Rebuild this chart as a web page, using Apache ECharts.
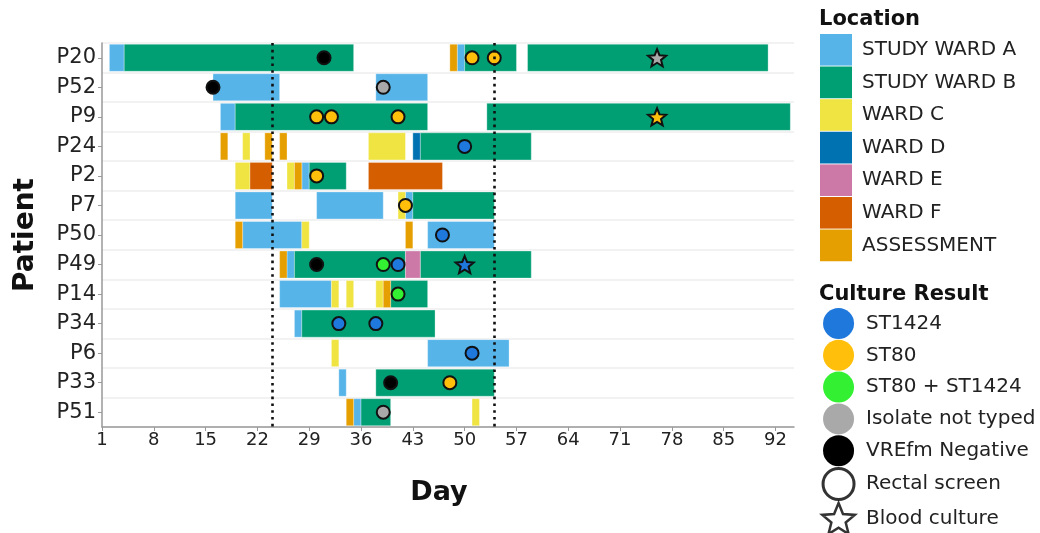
<!DOCTYPE html>
<html>
<head>
<meta charset="utf-8">
<script src="https://cdn.jsdelivr.net/npm/echarts@6/dist/echarts.min.js"></script>
<style>
  html, body { margin: 0; background: #fff; }
  #main { width: 1040px; height: 533px; }
</style>
</head>
<body>
<div id="main"></div>
<script>
// patients, top to bottom
const patients = ['P20', 'P52', 'P9', 'P24', 'P2', 'P7', 'P50', 'P49', 'P14', 'P34', 'P6', 'P33', 'P51'];
const dayTicks = [1, 8, 15, 22, 29, 36, 43, 50, 57, 64, 71, 78, 85, 92];
const markerDays = [24, 54];

// stays: [patient, first day, last day]
const studyWardA = [['P20', 2, 4], ['P20', 49, 50], ['P52', 16, 25], ['P52', 38, 45], ['P9', 17, 19],
  ['P2', 28, 29], ['P7', 19, 24], ['P7', 30, 39], ['P7', 42, 43], ['P50', 20, 28], ['P50', 45, 54],
  ['P49', 26, 27], ['P14', 25, 32], ['P34', 27, 28], ['P6', 45, 56], ['P33', 33, 34], ['P51', 35, 36]];
const studyWardB = [['P20', 4, 35], ['P20', 50, 57], ['P20', 58.5, 91], ['P9', 19, 45], ['P9', 53, 94],
  ['P24', 44, 59], ['P2', 29, 34], ['P7', 43, 54], ['P49', 27, 42], ['P49', 44, 59], ['P14', 40, 45],
  ['P34', 28, 46], ['P33', 38, 54], ['P51', 36, 40]];
const wardC = [['P24', 20, 21], ['P24', 37, 42], ['P2', 19, 21], ['P2', 26, 27], ['P7', 41, 42],
  ['P50', 28, 29], ['P14', 32, 33], ['P14', 34, 35], ['P14', 38, 39], ['P6', 32, 33], ['P51', 51, 52]];
const wardD = [['P24', 43, 44]];
const wardE = [['P49', 42, 44]];
const wardF = [['P2', 21, 24], ['P2', 37, 47]];
const assessment = [['P20', 48, 49], ['P24', 17, 18], ['P24', 23, 24], ['P24', 25, 26], ['P2', 27, 28],
  ['P50', 19, 20], ['P50', 42, 43], ['P49', 25, 26], ['P14', 39, 40], ['P51', 34, 35]];

// cultures: [day, patient, sample]
const st1424 = [[50, 'P24', 'rectal'], [47, 'P50', 'rectal'], [41, 'P49', 'rectal'], [50, 'P49', 'blood'],
  [33, 'P34', 'rectal'], [38, 'P34', 'rectal'], [51, 'P6', 'rectal']];
const st80 = [[51, 'P20', 'rectal'], [54, 'P20', 'rectal'], [30, 'P9', 'rectal'], [32, 'P9', 'rectal'],
  [41, 'P9', 'rectal'], [76, 'P9', 'blood'], [30, 'P2', 'rectal'], [42, 'P7', 'rectal'], [48, 'P33', 'rectal']];
const st80st1424 = [[39, 'P49', 'rectal'], [41, 'P14', 'rectal']];
const notTyped = [[39, 'P52', 'rectal'], [76, 'P20', 'blood'], [39, 'P51', 'rectal']];
const negative = [[31, 'P20', 'rectal'], [16, 'P52', 'rectal'], [30, 'P49', 'rectal'], [40, 'P33', 'rectal']];

const FONT = 'DejaVu Sans';
const STAR = 'path://M50,0L62.93,32.2L97.55,34.55L70.92,56.8L79.39,90.45L50,72L20.61,90.45L29.08,56.8L2.45,34.55L37.07,32.2Z';

const locations = [
  { name: 'STUDY WARD A', data: studyWardA, color: '#56B4E9' },
  { name: 'STUDY WARD B', data: studyWardB, color: '#009E73' },
  { name: 'WARD C', data: wardC, color: '#F0E442' },
  { name: 'WARD D', data: wardD, color: '#0072B2' },
  { name: 'WARD E', data: wardE, color: '#CC79A7' },
  { name: 'WARD F', data: wardF, color: '#D55E00' },
  { name: 'ASSESSMENT', data: assessment, color: '#E69F00' }
];
const results = [
  { name: 'ST1424', data: st1424, color: '#1F78DC' },
  { name: 'ST80', data: st80, color: '#FFBF0A' },
  { name: 'ST80 + ST1424', data: st80st1424, color: '#33F033' },
  { name: 'Isolate not typed', data: notTyped, color: '#A9A9A9' },
  { name: 'VREfm Negative', data: negative, color: '#000000' }
];

function renderStay(params, api) {
  const y = api.value(0);
  const s = api.coord([api.value(1), y]);
  const e = api.coord([api.value(2), y]);
  const h = api.size([0, 1])[1] * 0.915;
  return {
    type: 'rect',
    shape: { x: s[0], y: s[1] - h / 2, width: e[0] - s[0], height: h },
    style: api.style()
  };
}

const series = [];
locations.forEach(function (loc, i) {
  series.push({
    name: loc.name,
    type: 'custom',
    renderItem: renderStay,
    encode: { x: [1, 2], y: 0 },
    itemStyle: { color: loc.color, borderColor: 'rgba(255,255,255,0.5)', borderWidth: 0.6 },
    data: loc.data,
    z: 2,
    markLine: i === 0 ? {
      silent: true,
      symbol: 'none',
      label: { show: false },
      lineStyle: { color: '#111', type: [2.6, 4.2], width: 2.6 },
      data: markerDays.map(function (d) { return { xAxis: d }; }),
      z: 10
    } : undefined
  });
});
results.forEach(function (r) {
  series.push({
    name: r.name,
    type: 'scatter',
    data: r.data,
    encode: { x: 0, y: 1 },
    symbol: function (v) { return v[2] === 'blood' ? STAR : 'circle'; },
    symbolSize: function (v) { return v[2] === 'blood' ? [18, 17] : 13; },
    itemStyle: { color: r.color, borderColor: '#111', borderWidth: 2, opacity: 1 },
    z: 5
  });
});
series.push({ name: 'Rectal screen', type: 'scatter', data: [] });
series.push({ name: 'Blood culture', type: 'scatter', data: [] });

const chart = echarts.init(document.getElementById('main'));
chart.setOption({
  animation: false,
  backgroundColor: '#fff',
  textStyle: { fontFamily: FONT },
  title: [
    { text: 'Location', left: 819, top: 9, padding: 0,
      textStyle: { fontFamily: FONT, fontSize: 21, fontWeight: 'bold', color: '#111' } },
    { text: 'Culture Result', left: 819, top: 284, padding: 0,
      textStyle: { fontFamily: FONT, fontSize: 21, fontWeight: 'bold', color: '#111' } }
  ],
  legend: [
    {
      orient: 'vertical', left: 820, top: 34, height: 240, padding: 0,
      itemWidth: 32, itemHeight: 31.6, itemGap: 1, selectedMode: false,
      textStyle: { fontFamily: FONT, fontSize: 20, color: '#222', padding: [0, 0, 0, 5] },
      data: locations.map(function (l) {
        return { name: l.name, icon: 'rect', itemStyle: { color: l.color, borderWidth: 0 } };
      })
    },
    {
      orient: 'vertical', left: 821, top: 308, height: 240, padding: 0,
      itemWidth: 33, itemHeight: 31, itemGap: 0.8, selectedMode: false,
      textStyle: { fontFamily: FONT, fontSize: 20, color: '#222', padding: [0, 0, 0, 6] },
      data: results.map(function (r) {
        return { name: r.name, icon: 'circle', itemStyle: { color: r.color, borderWidth: 0 } };
      }).concat([
        { name: 'Rectal screen', icon: 'circle', itemStyle: { color: '#fff', borderColor: '#000', borderWidth: 3 } },
        { name: 'Blood culture', icon: STAR, itemStyle: { color: '#fff', borderColor: '#000', borderWidth: 2.5 } }
      ])
    }
  ],
  grid: { left: 102, top: 43, width: 692, height: 384 },
  xAxis: {
    type: 'value',
    min: 1,
    max: 94.5,
    name: 'Day',
    nameLocation: 'middle',
    nameGap: 52,
    nameTextStyle: { fontFamily: FONT, fontSize: 27, fontWeight: 'bold', color: '#111', padding: [0, 18, 0, 0] },
    axisLine: { show: true, lineStyle: { color: '#999', width: 1.5 } },
    axisTick: { show: true, length: 4, customValues: dayTicks, lineStyle: { color: '#999' } },
    axisLabel: { customValues: dayTicks, fontFamily: FONT, fontSize: 18, color: '#222', margin: 4 },
    splitLine: { show: false }
  },
  yAxis: {
    type: 'category',
    data: patients,
    inverse: true,
    name: 'Patient',
    nameLocation: 'middle',
    nameGap: 62,
    nameRotate: 90,
    nameTextStyle: { fontFamily: FONT, fontSize: 28, fontWeight: 'bold', color: '#111' },
    axisLine: { show: true, lineStyle: { color: '#999', width: 1.5 } },
    axisTick: { show: true, length: 4, alignWithLabel: true, lineStyle: { color: '#999' } },
    axisLabel: { fontFamily: FONT, fontSize: 21, color: '#222', margin: 6 },
    splitLine: { show: true, lineStyle: { color: '#eeeeee', width: 1.5 } }
  },
  series: series
});
</script>
</body>
</html>
